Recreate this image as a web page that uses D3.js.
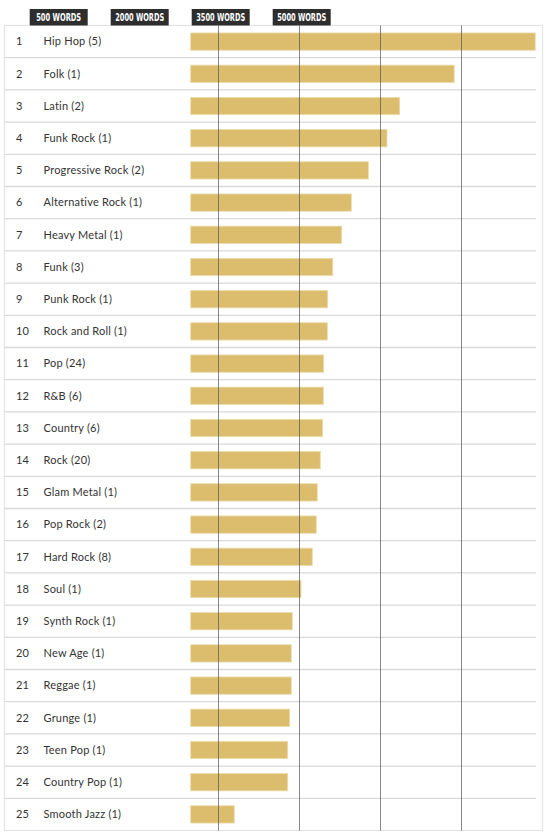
<!DOCTYPE html>
<html>
<head>
<meta charset="utf-8">
<script src="https://cdn.jsdelivr.net/npm/d3@7"></script>
<style>
  html, body { margin: 0; padding: 0; background: #fff; }
  svg { display: block; }
</style>
</head>
<body>
<div id="chart"></div>
<script>
const genres = ["Hip Hop", "Folk", "Latin", "Funk Rock", "Progressive Rock", "Alternative Rock",
  "Heavy Metal", "Funk", "Punk Rock", "Rock and Roll", "Pop", "R&B", "Country", "Rock",
  "Glam Metal", "Pop Rock", "Hard Rock", "Soul", "Synth Rock", "New Age", "Reggae", "Grunge",
  "Teen Pop", "Country Pop", "Smooth Jazz"];
const counts = [5, 1, 2, 1, 2, 1, 1, 3, 1, 1, 24, 6, 6, 20, 1, 2, 8, 1, 1, 1, 1, 1, 1, 1, 1];
const words = [6380, 4880, 3870, 3635, 3290, 2975, 2795, 2630, 2537, 2530, 2463, 2456, 2444, 2400,
  2344, 2326, 2252, 2043, 1881, 1863, 1863, 1833, 1796, 1796, 807];
const tickValues = [500, 2000, 3500, 5000];
const tickLabels = ["500 WORDS", "2000 WORDS", "3500 WORDS", "5000 WORDS"];

const W = 550, H = 837;
const box = { left: 4.5, right: 542.5, top: 25.5, bottom: 830.5 };

const svg = d3.select("#chart").append("svg").attr("width", W).attr("height", H);

const x = d3.scaleLinear().domain([0, 5000]).range([190.7, 460.7]);
const y = d3.scaleBand().domain(d3.range(genres.length)).range([box.top, box.bottom]).padding(0);

// outer border
svg.append("rect")
  .attr("x", box.left).attr("y", box.top)
  .attr("width", box.right - box.left).attr("height", box.bottom - box.top)
  .attr("fill", "none").attr("stroke", "#e3e3e3").attr("stroke-width", 1.2);

// row separators
svg.append("g").selectAll("line")
  .data(d3.range(1, genres.length))
  .join("line")
  .attr("x1", box.left).attr("x2", 536)
  .attr("y1", d => y(d)).attr("y2", d => y(d))
  .attr("stroke", "#d9d9d9").attr("stroke-width", 1.3);

// bars
const barH = 17.3;
svg.append("g").selectAll("rect")
  .data(words)
  .join("rect")
  .attr("x", x(0))
  .attr("y", (d, i) => y(i) + y.bandwidth() / 2 - barH / 2)
  .attr("width", d => x(d) - x(0))
  .attr("height", barH)
  .attr("fill", "#dbbd6d")
  .attr("stroke", "#ecdcac")
  .attr("stroke-width", 0.8);

// vertical gridlines
svg.append("g").selectAll("line")
  .data(tickValues)
  .join("line")
  .attr("x1", d => Math.round(x(d)) + 0.5).attr("x2", d => Math.round(x(d)) + 0.5)
  .attr("y1", box.top).attr("y2", box.bottom)
  .attr("stroke", "#555").attr("stroke-opacity", 0.7).attr("stroke-width", 1);

// header labels (offset to the left, as in the reference)
const labelOffset = -159;
const lab = svg.append("g").selectAll("g")
  .data(tickValues)
  .join("g")
  .attr("transform", d => `translate(${x(d) + labelOffset},0)`);
lab.append("rect")
  .attr("x", -29).attr("y", 9).attr("width", 58).attr("height", 16.5)
  .attr("fill", "#2e2e2e");
lab.append("text")
  .attr("x", 0).attr("y", 21)
  .attr("text-anchor", "middle")
  .attr("fill", "#fff")
  .attr("textLength", (d, i) => tickLabels[i].length === 9 ? 45 : 49)
  .attr("lengthAdjust", "spacingAndGlyphs")
  .style("font-family", "'DejaVu Sans', sans-serif")
  .style("font-weight", "bold")
  .style("font-size", "10px")
  .text((d, i) => tickLabels[i]);

// rank numbers and labels
const rows = svg.append("g").selectAll("g")
  .data(genres)
  .join("g")
  .attr("transform", (d, i) => `translate(0,${y(i) + y.bandwidth() / 2})`);
rows.append("text")
  .attr("x", 16).attr("dy", "0.35em")
  .attr("fill", "#333")
  .style("font-family", "Lato, 'Open Sans', sans-serif")
  .style("font-size", "11px")
  .text((d, i) => i + 1);
rows.append("text")
  .attr("x", 43.5).attr("dy", "0.35em")
  .attr("fill", "#333")
  .style("font-family", "Lato, 'Open Sans', sans-serif")
  .style("font-size", "11px")
  .style("letter-spacing", "0.2px")
  .text((d, i) => `${d} (${counts[i]})`);
</script>
</body>
</html>
